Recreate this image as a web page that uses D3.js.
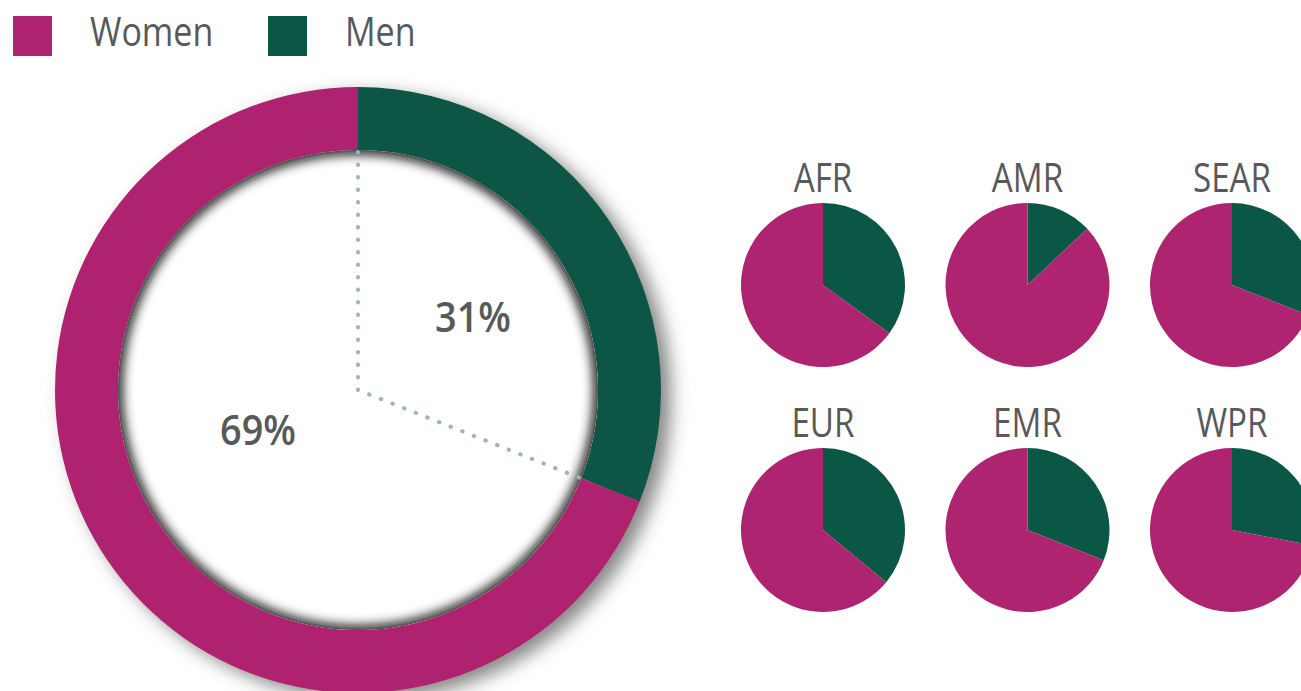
<!DOCTYPE html>
<html>
<head>
<meta charset="utf-8">
<script src="https://cdn.jsdelivr.net/npm/d3@7"></script>
<style>
  body { margin: 0; background: #fff; }
  svg { display: block; }
</style>
</head>
<body>
<script>
// data
var categories = ["Women", "Men"];
var colors = ["#ae2470", "#0a5745"];
var overallMen = 31;
var overallWomen = 69;
var regions = ["AFR", "AMR", "SEAR", "EUR", "EMR", "WPR"];
var regionMen = [35, 13, 31, 36, 31, 28];

var svgWidth = 1301;
var svgHeight = 691;
var textColor = "#58595b";

var svg = d3.select("body")
  .append("svg")
  .attr("width", svgWidth)
  .attr("height", svgHeight);

var defs = svg.append("defs");

var drop = defs.append("filter")
  .attr("id", "drop")
  .attr("x", "-20%").attr("y", "-20%")
  .attr("width", "140%").attr("height", "140%");
drop.append("feDropShadow")
  .attr("dx", 10).attr("dy", 7)
  .attr("stdDeviation", 9)
  .attr("flood-color", "#444")
  .attr("flood-opacity", 0.65);

var blur = defs.append("filter")
  .attr("id", "blur")
  .attr("x", "-20%").attr("y", "-20%")
  .attr("width", "140%").attr("height", "140%");
blur.append("feGaussianBlur").attr("stdDeviation", 6);

// helper for condensed text (the original font is narrow)
function label(g, x, y, txt, size, weight, anchor, squeeze) {
  return g.append("text")
    .attr("transform", `translate(${x},${y}) scale(${squeeze || 0.83},1)`)
    .attr("text-anchor", anchor || "middle")
    .style("font-family", "'Open Sans', 'Noto Sans', sans-serif")
    .style("font-size", size + "px")
    .style("font-weight", weight || 400)
    .attr("fill", textColor)
    .text(txt);
}

// legend
var legend = svg.append("g");
var legendX = d3.scaleOrdinal().domain(categories).range([13, 268]);
categories.forEach(function(c, i) {
  legend.append("rect")
    .attr("x", legendX(c)).attr("y", 16)
    .attr("width", 39).attr("height", 40)
    .attr("fill", colors[i]);
  label(legend, legendX(c) + 77, 46, c, 41, 400, "start");
});

// big donut
var cx = 358, cy = 390, rOuter = 303, rInner = 240;
var big = svg.append("g").attr("transform", `translate(${cx},${cy})`);

var pie = d3.pie().sort(null).value(function(d) { return d.value; });
var bigData = pie([
  {key: "Men", value: overallMen},
  {key: "Women", value: overallWomen}
]);
var colorScale = d3.scaleOrdinal().domain(categories).range(colors);

var arc = d3.arc().innerRadius(rInner).outerRadius(rOuter);
big.append("g")
  .attr("filter", "url(#drop)")
  .selectAll("path")
  .data(bigData)
  .enter()
  .append("path")
  .attr("d", arc)
  .attr("fill", function(d) { return colorScale(d.data.key); });

// inner shadow of the hole
defs.append("clipPath").attr("id", "hole")
  .append("circle").attr("r", rInner);
big.append("circle")
  .attr("r", rInner)
  .attr("fill", "#fff");
big.append("g")
  .attr("clip-path", "url(#hole)")
  .append("circle")
  .attr("r", rInner + 6)
  .attr("fill", "none")
  .attr("stroke", "#111")
  .attr("stroke-width", 20)
  .attr("filter", "url(#blur)");

// dotted guide
var split = bigData[0].endAngle;
var guide = d3.line()([
  [0, -rInner + 2],
  [0, 0],
  [Math.sin(split) * (rInner - 2), -Math.cos(split) * (rInner - 2)]
]);
big.append("path")
  .attr("d", guide)
  .attr("fill", "none")
  .attr("stroke", "#9db5ba")
  .attr("stroke-width", 4)
  .attr("stroke-linecap", "round")
  .attr("stroke-dasharray", "0.5 12");

// percentage labels
var labelPos = {Men: [115, -58], Women: [-100, 55]};
bigData.forEach(function(d) {
  var p = labelPos[d.data.key];
  label(big, p[0], p[1], d.data.value + "%", 42, 600, "middle", 0.9);
});

// regional pies
var rSmall = 82;
var colX = d3.scalePoint().domain([0, 1, 2]).range([823, 1232]);
var rowY = d3.scalePoint().domain([0, 1]).range([285, 530]);
var smallArc = d3.arc().innerRadius(0).outerRadius(rSmall);

regions.forEach(function(r, i) {
  var g = svg.append("g")
    .attr("transform", `translate(${colX(i % 3)},${rowY(Math.floor(i / 3))})`);
  g.selectAll("path")
    .data(pie([
      {key: "Men", value: regionMen[i]},
      {key: "Women", value: 100 - regionMen[i]}
    ]))
    .enter()
    .append("path")
    .attr("d", smallArc)
    .attr("fill", function(d) { return colorScale(d.data.key); });
  label(g, 0, -93, r, 40, 400);
});
</script>
</body>
</html>
